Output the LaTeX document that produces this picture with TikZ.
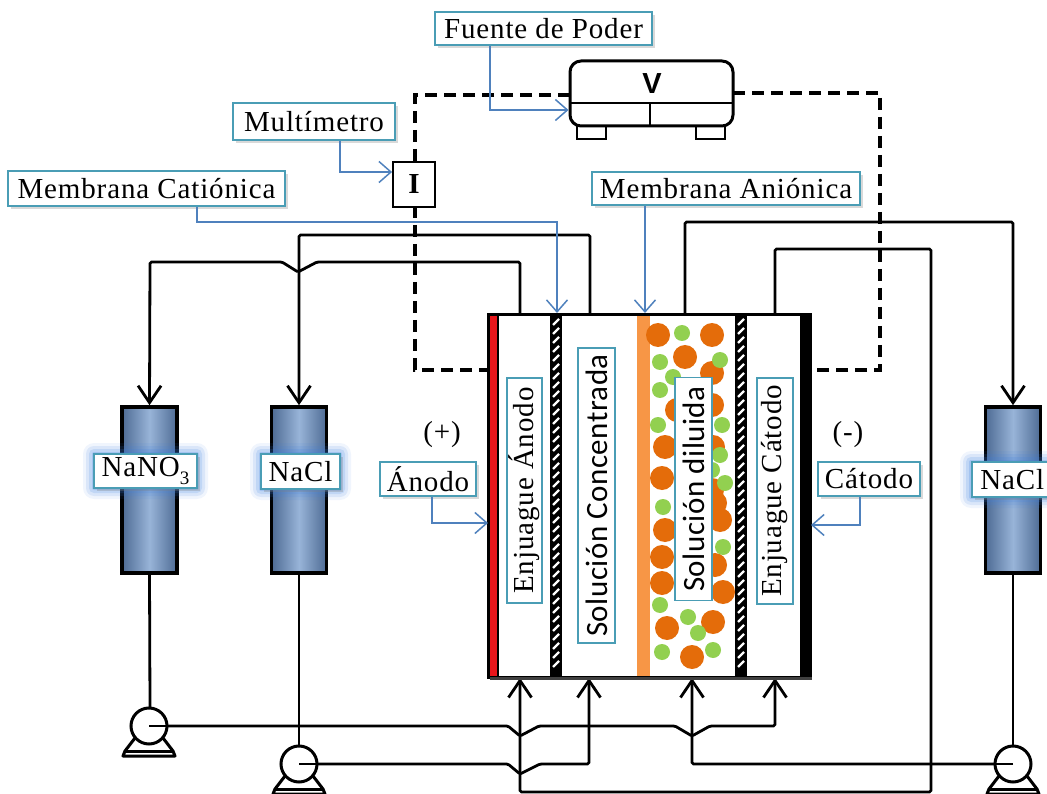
\documentclass[tikz,border=0pt]{standalone}
\usepackage{fontspec}
\setmainfont{Liberation Serif}
\newfontfamily\lblserif[LetterSpace=3]{Liberation Serif}
\newfontfamily\lblsans[LetterSpace=1.5]{Carlito}
\newfontfamily\psufont{Liberation Sans}
\usetikzlibrary{arrows.meta,shadows}

\definecolor{frameteal}{HTML}{4A9DB5}
\definecolor{leadblue}{HTML}{4F81BD}
\definecolor{tankdark}{HTML}{4E6B94}
\definecolor{tanklight}{HTML}{98B4D8}
\definecolor{glowblue}{HTML}{3C7FE0}
\definecolor{anodered}{HTML}{E8161B}
\definecolor{memorange}{HTML}{F79646}
\definecolor{ionorange}{HTML}{E46C0A}
\definecolor{iongreen}{HTML}{92D050}

% soft blue halo drawn behind the tank labels
\newcommand\glowrect[4]{%
  \foreach \g/\op in {11/.08,8/.12,5/.16,2/.22}{%
    \fill[glowblue,opacity=\op,rounded corners=\g pt]
      ({#1-\g},{#2-\g}) rectangle ({#3+\g},{#4+\g});}}

% pump symbol: impeller circle on a base
\newcommand\pumpsym[2]{%
  \draw[line width=3pt,fill=white] (#1,#2) circle[radius=18];
  \draw[line width=3pt,line join=round]
    ({#1-14},{#2+12}) -- ({#1-24},{#2+25}) -- ({#1-26},{#2+30}) -- ({#1+26},{#2+30})
    -- ({#1+24},{#2+25}) -- ({#1+14},{#2+12});
  \draw[line width=3pt] ({#1-24},{#2+25}) -- ({#1+24},{#2+25});}

\begin{document}
\begin{tikzpicture}[x=1pt,y=-1pt,
  pipe/.style={line width=2.8pt,rounded corners=1.5pt},
  flow/.style={pipe,-{Straight Barb[length=17pt,width=23pt]}},
  lead/.style={leadblue,line width=1.5pt,-{Straight Barb[length=12pt,width=21pt]}},
  wire/.style={line width=3.2pt,dash pattern=on 12pt off 7pt},
  tag/.style={draw=frameteal,line width=1.6pt,fill=white,inner sep=0pt,
    font=\lblserif\fontsize{29}{32}\selectfont,
    drop shadow={shadow xshift=3pt,shadow yshift=-3pt,opacity=.3}},
  vtag/.style={draw=frameteal,line width=1.6pt,fill=white,inner sep=0pt,rotate=90},
  tank/.style={draw=black,line width=3.6pt,left color=tankdark,right color=tankdark,
    middle color=tanklight,minimum width=55pt,minimum height=166pt,inner sep=0pt},
  ion/.style={fill=ionorange},
  small ion/.style={fill=iongreen}]
\useasboundingbox (0,0) rectangle (1047,794);

% ---------- port coordinates of the cell ----------
\coordinate (anodeOut) at (520,315);
\coordinate (concOut) at (590,315);
\coordinate (dilOut) at (685,315);
\coordinate (cathOut) at (775,315);
\coordinate (anodeIn) at (520,678);
\coordinate (concIn) at (589,678);
\coordinate (dilIn) at (692,678);
\coordinate (cathIn) at (775,678);

% ---------- tanks ----------
\node[tank] (tankN) at (149.5,490) {};
\node[tank] (tankC) at (299,490) {};
\node[tank] (tankR) at (1013,490) {};

% ---------- pipes, top ----------
\draw[flow] (anodeOut) -- (520,262) -- (317,262) -- (298,272) -- (282,262) -- (150,262) -- (tankN.north);
\draw[flow] (concOut) -- (590,235) -- (299,235) -- (tankC.north);
\draw[flow] (dilOut) -- (685,222) -- (1013,222) -- (tankR.north);
\draw[flow] (cathOut) -- (775,249) -- (931,249) -- (931,792) -- (520,792) -- (anodeIn);

% ---------- pipes, bottom ----------
\coordinate (pumpN) at (149,726);
\coordinate (pumpC) at (299,764);
\coordinate (pumpR) at (1013,764);
\draw[pipe] (tankN.south) -- (150,708);
\draw[pipe] (tankC.south) -- (299,746);
\draw[pipe] (tankR.south) -- (1013,746);
\draw[flow] (pumpN) -- (508,726) -- (520,736) -- (539,726) -- (675,726) -- (692,736) -- (710,726) -- (775,726) -- (cathIn);
\draw[flow] (pumpC) -- (508,764) -- (520,774) -- (540,764) -- (589,764) -- (concIn);
\draw[flow] (pumpR) -- (692,764) -- (dilIn);
\pumpsym{149}{726}
\pumpsym{299}{764}
\pumpsym{1013}{764}
\draw[pipe] (pumpN) -- (175,726);
\draw[pipe] (pumpC) -- (325,764);
\draw[pipe] (pumpR) -- (987,764);

% ---------- electrical circuit ----------
\draw[wire] (570,95) -- (415,95) -- (415,370) -- (488,370);
\draw[wire] (733,93) -- (880,93) -- (880,370) -- (810,370);
\node[draw,line width=1.8pt,fill=white,minimum width=42pt,minimum height=45pt,inner sep=0pt,
  font=\bfseries\fontsize{29}{32}\selectfont] (amp) at (414,184.5) {I};

% power supply
\draw[line width=2.6pt,fill=white] (577,120) rectangle (606,139);
\draw[line width=2.6pt,fill=white] (696,120) rectangle (725,139);
\node[draw,line width=3pt,fill=white,rounded corners=11pt,minimum width=163pt,
  minimum height=65pt,inner sep=0pt] (psu) at (651.5,93.5) {};
\draw[line width=1.6pt] (570,103) -- (733,103);
\draw[line width=1.6pt] (650,103) -- (650,126);
\node[font=\psufont\bfseries\fontsize{29}{32}\selectfont] (psuV) at (652,84) {V};

% ---------- the cell ----------
\fill[white] (488,315) rectangle (810,677);
% anode
\fill[anodered] (488,315) rectangle (498,677);
\draw[line width=1.2pt] (498,315) -- (498,677);
% cation membranes
\foreach \mx in {550,735}{
  \fill[black] (\mx,315) rectangle ({\mx+12},677);
  \foreach \yy in {318,327,...,668}
    \draw[white,line width=2.4pt] ({\mx+3},{\yy+7}) -- ({\mx+9},{\yy+1});}
% anion membrane
\fill[memorange] (637,315) rectangle (650,677);
% cathode
\fill[black] (800,315) rectangle (810,677);
% ions in the diluted stream
\foreach \cx/\cy in {658/335,712/335,685/357,712/373,677/410,712/405,665/447,713/447,
  662/478,712/490,715/503,720/520,665/530,662/557,715/565,662/583,723/592,667/628,
  713/622,692/657,688/392}
  \fill[ion] (\cx,\cy) circle[radius=12];
\foreach \cx/\cy in {682/333,660/362,720/360,673/377,660/390,658/425,722/425,712/470,
  725/483,663/507,723/547,660/605,688/617,698/633,662/652,713/650,720/455}
  \fill[small ion] (\cx,\cy) circle[radius=8];
\draw[line width=3pt] (488,315) rectangle (810,677);
\draw[black!75,line width=3pt] (490,678) -- (812,678);

% ---------- compartment labels ----------
\node[vtag,minimum width=225pt,minimum height=35pt,font=\lblserif\fontsize{29}{32}\selectfont]
  (lblAR) at (524.5,490.5) {Enjuague Ánodo};
\node[vtag,minimum width=295pt,minimum height=37pt,font=\lblsans\fontsize{31}{33}\selectfont]
  (lblSC) at (596.5,495.5) {Solución Concentrada};
\node[vtag,minimum width=223pt,minimum height=37pt,font=\lblsans\fontsize{31}{33}\selectfont]
  (lblSD) at (693.5,489) {Solución diluida};
\node[vtag,minimum width=226pt,minimum height=36pt,font=\lblserif\fontsize{29}{32}\selectfont]
  (lblCR) at (775,491) {Enjuague Cátodo};

% ---------- callouts ----------
\node[tag,minimum width=217pt,minimum height=33pt] (fuente) at (543.5,28.5) {Fuente de Poder};
\node[tag,minimum width=162pt,minimum height=37pt] (multi) at (314,121.5) {Multímetro};
\node[tag,minimum width=277pt,minimum height=35pt] (mcat) at (146.5,188.5) {Membrana Catiónica};
\node[tag,minimum width=268pt,minimum height=33pt] (mani) at (726,188.5) {Membrana Aniónica};
\node[tag,minimum width=96pt,minimum height=34pt] (anodo) at (428,479) {Ánodo};
\node[tag,minimum width=102pt,minimum height=34pt] (catodo) at (869,479) {Cátodo};
\node[font=\lblserif\fontsize{29}{32}\selectfont] (plus) at (442,435) {(+)};
\node[font=\lblserif\fontsize{29}{32}\selectfont] (minus) at (848,435) {(-)};

\draw[lead] (fuente.south -| 490,0) -- (490,110) -- (psu.west |- 0,110);
\draw[lead] (multi.south -| 340,0) -- (340,172) -- (amp.west |- 0,172);
\draw[lead] (mcat.south -| 197,0) -- (197,222) -- (557,222) -- (557,313);
\draw[lead] (mani.south -| 645,0) -- (645,313);
\draw[lead] (anodo.south -| 432,0) -- (432,523) -- (488,523);
\draw[lead] (catodo.south -| 860,0) -- (860,525) -- (811,525);

% ---------- tank labels ----------
\glowrect{94}{454}{197}{488}
\glowrect{261}{454}{340}{489}
\glowrect{971}{462}{1052}{497}
\node[tag,minimum width=103pt,minimum height=34pt] (lblN) at (145.5,471)
  {NaNO\raisebox{-0.28em}{\fontsize{19}{19}\selectfont 3}};
\node[tag,minimum width=79pt,minimum height=35pt] (lblC) at (300.5,471.5) {NaCl};
\node[tag,minimum width=81pt,minimum height=35pt,anchor=west] (lblR) at (971,479.5) {NaCl};
\end{tikzpicture}
\end{document}
